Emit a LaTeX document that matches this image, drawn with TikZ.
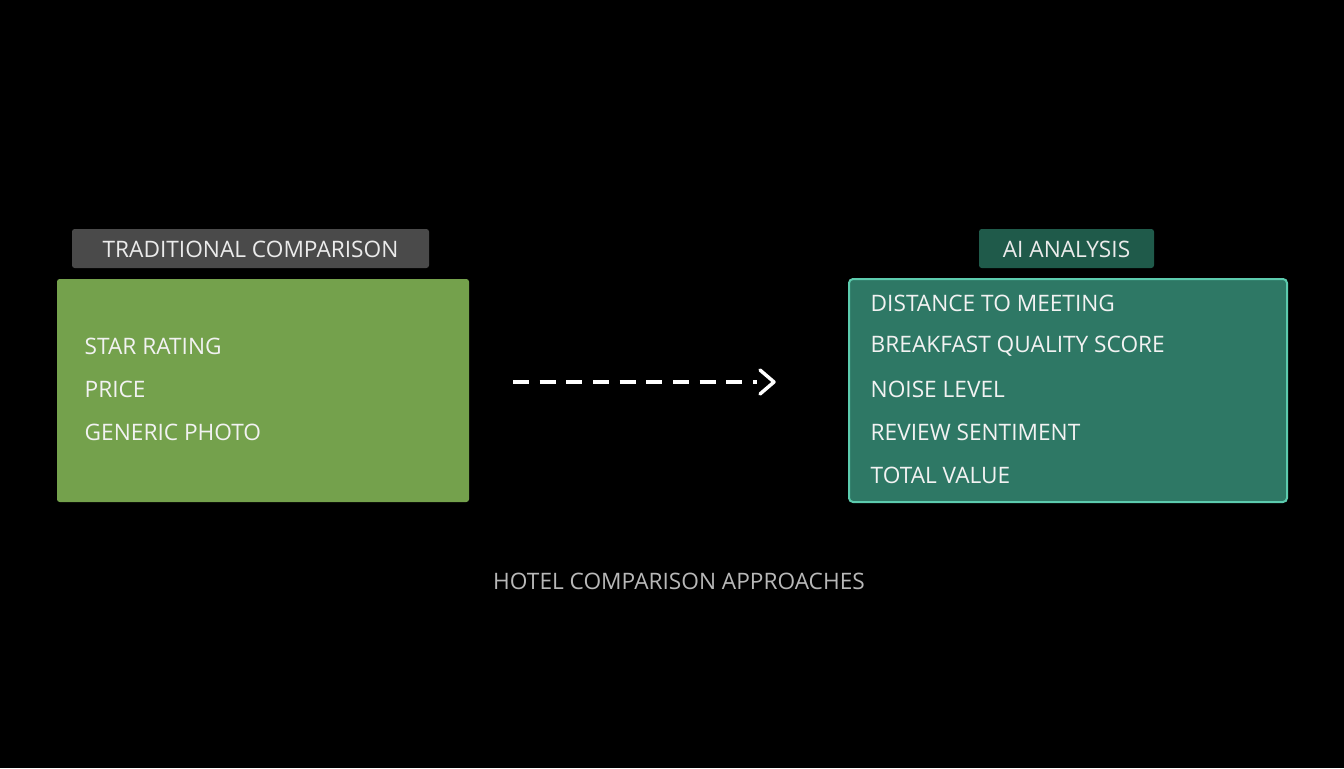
\documentclass[tikz,border=0pt]{standalone}
\usepackage{fontspec}
\setmainfont{Open Sans}
\begin{document}
\begin{tikzpicture}[x=0.75pt,y=-0.75pt,
  lbl/.style={anchor=center,text=white!92!black,font=\fontsize{17}{20}\selectfont},
  item/.style={anchor=west,text=white!95!black,font=\fontsize{17}{20}\selectfont}]
\fill[black] (0,0) rectangle (1344,768);
\useasboundingbox (0,0) rectangle (1344,768);
\definecolor{lgreen}{HTML}{74A14C}
\definecolor{teal1}{HTML}{2E7865}
\definecolor{teal2}{HTML}{5CCBAE}
\definecolor{tlab}{HTML}{1F5A4A}
\definecolor{glab}{HTML}{4A4A4A}
\fill[glab,rounded corners=2] (72,229) rectangle (429,268);
\node[lbl] (tl) at (250.5,249) {TRADITIONAL COMPARISON};
\fill[lgreen,rounded corners=2] (57,279) rectangle (469,502);
\node[item] (a1) at (80,346) {STAR RATING};
\node[item] (a2) at (80,389) {PRICE};
\node[item] (a3) at (80,432) {GENERIC PHOTO};
\fill[tlab,rounded corners=2] (979,229) rectangle (1154,268);
\node[lbl] (al) at (1066.5,249) {AI ANALYSIS};
\draw[teal2,fill=teal1,line width=1.5,rounded corners=3] (849,279) rectangle (1287,502);
\node[item] (b1) at (866,303) {DISTANCE TO MEETING};
\node[item] (b2) at (866,346) {BREAKFAST QUALITY SCORE};
\node[item] (b3) at (866,389) {NOISE LEVEL};
\node[item] (b4) at (866,432) {REVIEW SENTIMENT};
\node[item] (b5) at (866,475) {TOTAL VALUE};
\coordinate (s) at (513,382);
\coordinate (e) at (775,382);
\draw[white,line width=2.6,dash pattern=on 12pt off 8pt] (s) -- (757,382);
\draw[white,line width=2.6,line cap=round,line join=round] (760,370) -- (774,382) -- (760,394);
\node[anchor=center,text=white!72!black,font=\fontsize{17}{20}\selectfont] (cap) at (679,581) {HOTEL COMPARISON APPROACHES};
\end{tikzpicture}
\end{document}
